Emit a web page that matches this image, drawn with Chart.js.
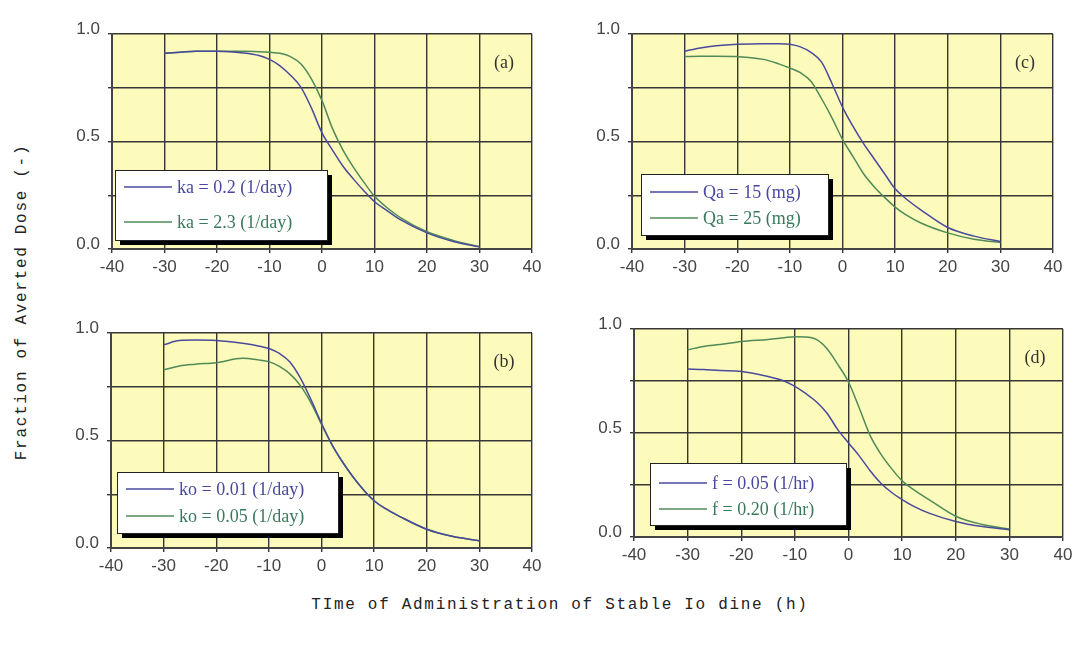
<!DOCTYPE html>
<html>
<head>
<meta charset="utf-8">
<script src="https://cdn.jsdelivr.net/npm/chart.js@4/dist/chart.umd.min.js"></script>
<style>
  body { margin: 0; background: #fff; width: 1077px; height: 646px; position: relative; overflow: hidden; }
  canvas { position: absolute; }
  .atitle { position: absolute; font-family: "Liberation Mono", monospace; font-size: 16px; letter-spacing: 1.7px; color: #222; white-space: nowrap; }
  #xtitle { left: 560px; top: 605px; transform: translate(-50%, -50%); }
  #ytitle { left: 22px; top: 302px; transform: translate(-50%, -50%) rotate(-90deg); }
</style>
</head>
<body>
<canvas id="chart_a"></canvas>
<canvas id="chart_b"></canvas>
<canvas id="chart_c"></canvas>
<canvas id="chart_d"></canvas>
<div class="atitle" id="xtitle">TIme of Administration of Stable Io dine (h)</div>
<div class="atitle" id="ytitle">Fraction of Averted Dose (-)</div>
<script>
// time of administration (h), same points for every curve
let time_h = [-30, -27, -24, -20, -15, -12, -10, -8, -6, -4, -2, 0, 2, 4, 6, 8, 10, 12, 15, 20, 25, 30];

// (a) absorption rate ka
let a_labels = ['ka = 0.2 (1/day)', 'ka = 2.3 (1/day)'];
let a_ka02 = [0.91, 0.915, 0.92, 0.92, 0.912, 0.9, 0.882, 0.852, 0.808, 0.752, 0.655, 0.54, 0.46, 0.385, 0.325, 0.27, 0.22, 0.185, 0.135, 0.075, 0.035, 0.01];
let a_ka23 = [0.91, 0.915, 0.92, 0.92, 0.92, 0.918, 0.915, 0.91, 0.895, 0.86, 0.79, 0.69, 0.56, 0.46, 0.38, 0.31, 0.245, 0.2, 0.145, 0.08, 0.04, 0.01];

// (b) excretion rate ko
let b_labels = ['ko = 0.01 (1/day)', 'ko = 0.05 (1/day)'];
let b_ko001 = [0.945, 0.965, 0.967, 0.965, 0.952, 0.94, 0.928, 0.905, 0.865, 0.79, 0.69, 0.58, 0.48, 0.4, 0.33, 0.27, 0.22, 0.185, 0.145, 0.087, 0.053, 0.034];
let b_ko005 = [0.828, 0.847, 0.855, 0.862, 0.882, 0.875, 0.867, 0.845, 0.81, 0.755, 0.675, 0.575, 0.48, 0.4, 0.33, 0.27, 0.22, 0.185, 0.145, 0.087, 0.053, 0.034];

// (c) amount of stable iodine Qa
let c_labels = ['Qa = 15 (mg)', 'Qa = 25 (mg)'];
let c_qa15 = [0.92, 0.935, 0.945, 0.952, 0.955, 0.955, 0.952, 0.94, 0.915, 0.87, 0.77, 0.66, 0.57, 0.49, 0.42, 0.35, 0.28, 0.235, 0.18, 0.1, 0.06, 0.035];
let c_qa25 = [0.895, 0.897, 0.897, 0.895, 0.882, 0.86, 0.842, 0.82, 0.78, 0.7, 0.61, 0.51, 0.43, 0.35, 0.29, 0.24, 0.195, 0.16, 0.12, 0.075, 0.045, 0.03];

// (d) release rate f
let d_labels = ['f = 0.05 (1/hr)', 'f = 0.20 (1/hr)'];
let d_f005 = [0.808, 0.805, 0.8, 0.796, 0.772, 0.75, 0.724, 0.69, 0.65, 0.595, 0.516, 0.452, 0.39, 0.32, 0.26, 0.215, 0.18, 0.15, 0.115, 0.075, 0.05, 0.035];
let d_f020 = [0.9, 0.916, 0.925, 0.94, 0.95, 0.958, 0.963, 0.962, 0.95, 0.905, 0.83, 0.745, 0.62, 0.49, 0.4, 0.33, 0.27, 0.23, 0.18, 0.1, 0.06, 0.038];

let x_ticks = { min: -40, max: 40, step: 10 };
let y_ticks = { min: 0, max: 1, step: 0.25 };

let line_colours = ['#4a4a9c', '#4f8a58'];
let text_colours = ['#4848a0', '#3a7a5c'];

// ----------- plugins -----------
const plotBackground = {
  id: 'plotBackground',
  beforeDraw(chart) {
    const a = chart.chartArea, ctx = chart.ctx;
    ctx.save();
    ctx.fillStyle = '#fdfbbb';
    ctx.fillRect(a.left, a.top, a.right - a.left, a.bottom - a.top);
    ctx.restore();
  }
};

const boxLegend = {
  id: 'boxLegend',
  afterDatasetsDraw(chart, args, opts) {
    const a = chart.chartArea, ctx = chart.ctx;
    const x = a.left + opts.dx, y = a.bottom - opts.dyBottom - opts.h;
    ctx.save();
    ctx.fillStyle = '#000';
    ctx.fillRect(x + 5, y + 5, opts.w, opts.h);
    ctx.fillStyle = '#fff';
    ctx.fillRect(x, y, opts.w, opts.h);
    ctx.strokeStyle = '#222';
    ctx.lineWidth = 1;
    ctx.strokeRect(x + 0.5, y + 0.5, opts.w, opts.h);
    ctx.font = '18px "Liberation Serif", serif';
    ctx.textBaseline = 'middle';
    chart.data.datasets.forEach((ds, i) => {
      const ry = y + opts.row1 + i * opts.pitch;
      ctx.strokeStyle = ds.borderColor;
      ctx.lineWidth = 1.5;
      ctx.beginPath();
      ctx.moveTo(x + 9, ry);
      ctx.lineTo(x + 57, ry);
      ctx.stroke();
      ctx.fillStyle = text_colours[i];
      ctx.fillText(ds.label, x + 62, ry + 1);
    });
    ctx.restore();
  }
};

const panelLabel = {
  id: 'panelLabel',
  afterDraw(chart, args, opts) {
    const a = chart.chartArea, ctx = chart.ctx;
    ctx.save();
    ctx.font = '18px "Liberation Serif", serif';
    ctx.fillStyle = '#333';
    ctx.textAlign = 'center';
    ctx.textBaseline = 'middle';
    ctx.fillText(opts.text, a.right - 28, a.top + 29);
    ctx.restore();
  }
};

// ----------- one panel -----------
const Y_AXIS_W = 62, X_AXIS_H = 36, PAD = 20;

function drawPanel(id, plot, labels, series, panel, legendBox) {
  const cv = document.getElementById(id);
  const w = plot.r - plot.l + Y_AXIS_W + PAD;
  const h = plot.b - plot.t + PAD + X_AXIS_H;
  cv.width = w; cv.height = h;
  cv.style.left = (plot.l - Y_AXIS_W) + 'px';
  cv.style.top = (plot.t - PAD) + 'px';

  return new Chart(cv.getContext('2d'), {
    type: 'line',
    data: {
      datasets: series.map((vals, i) => ({
        label: labels[i],
        data: time_h.map((t, k) => ({ x: t, y: vals[k] })),
        borderColor: line_colours[i],
        borderWidth: 1.5,
        pointRadius: 0,
        cubicInterpolationMode: 'monotone',
        fill: false
      }))
    },
    options: {
      responsive: false,
      animation: false,
      layout: { padding: { top: PAD, right: PAD, left: 0, bottom: 0 } },
      plugins: {
        legend: { display: false },
        tooltip: { enabled: false },
        boxLegend: legendBox,
        panelLabel: { text: panel }
      },
      scales: {
        x: {
          type: 'linear',
          min: x_ticks.min, max: x_ticks.max,
          afterFit(s) { s.height = X_AXIS_H; },
          ticks: { stepSize: x_ticks.step, color: '#444', padding: 4, maxRotation: 0,
                   font: { family: '"Liberation Sans", Arial, sans-serif', size: 17 } },
          grid: { color: '#363636', lineWidth: 1.4, tickLength: 4 },
          border: { color: '#444', width: 2 }
        },
        y: {
          min: y_ticks.min, max: y_ticks.max,
          afterFit(s) { s.width = Y_AXIS_W; },
          ticks: {
            stepSize: y_ticks.step, color: '#444', padding: 8, labelOffset: -5,
            font: { family: '"Liberation Sans", Arial, sans-serif', size: 17 },
            callback: v => (Math.abs(v * 2 - Math.round(v * 2)) < 1e-6 ? v.toFixed(1) : '')
          },
          grid: { color: '#363636', lineWidth: 1.4, tickLength: 4 },
          border: { color: '#444', width: 2 }
        }
      }
    },
    plugins: [plotBackground, boxLegend, panelLabel]
  });
}

let chart_a = drawPanel('chart_a', { l: 112, t: 34, r: 532, b: 249 }, a_labels, [a_ka02, a_ka23], '(a)',
  { dx: 3, dyBottom: 9, w: 212, h: 70, row1: 17, pitch: 35 });
let chart_c = drawPanel('chart_c', { l: 632, t: 34, r: 1053, b: 249 }, c_labels, [c_qa15, c_qa25], '(c)',
  { dx: 9, dyBottom: 14, w: 187, h: 61, row1: 18, pitch: 26 });
let chart_b = drawPanel('chart_b', { l: 111, t: 333, r: 532, b: 548 }, b_labels, [b_ko001, b_ko005], '(b)',
  { dx: 6, dyBottom: 15, w: 221, h: 61, row1: 17, pitch: 27 });
let chart_d = drawPanel('chart_d', { l: 634, t: 329, r: 1063, b: 537 }, d_labels, [d_f005, d_f020], '(d)',
  { dx: 16, dyBottom: 12, w: 196, h: 62, row1: 20, pitch: 26 });
</script>
</body>
</html>
